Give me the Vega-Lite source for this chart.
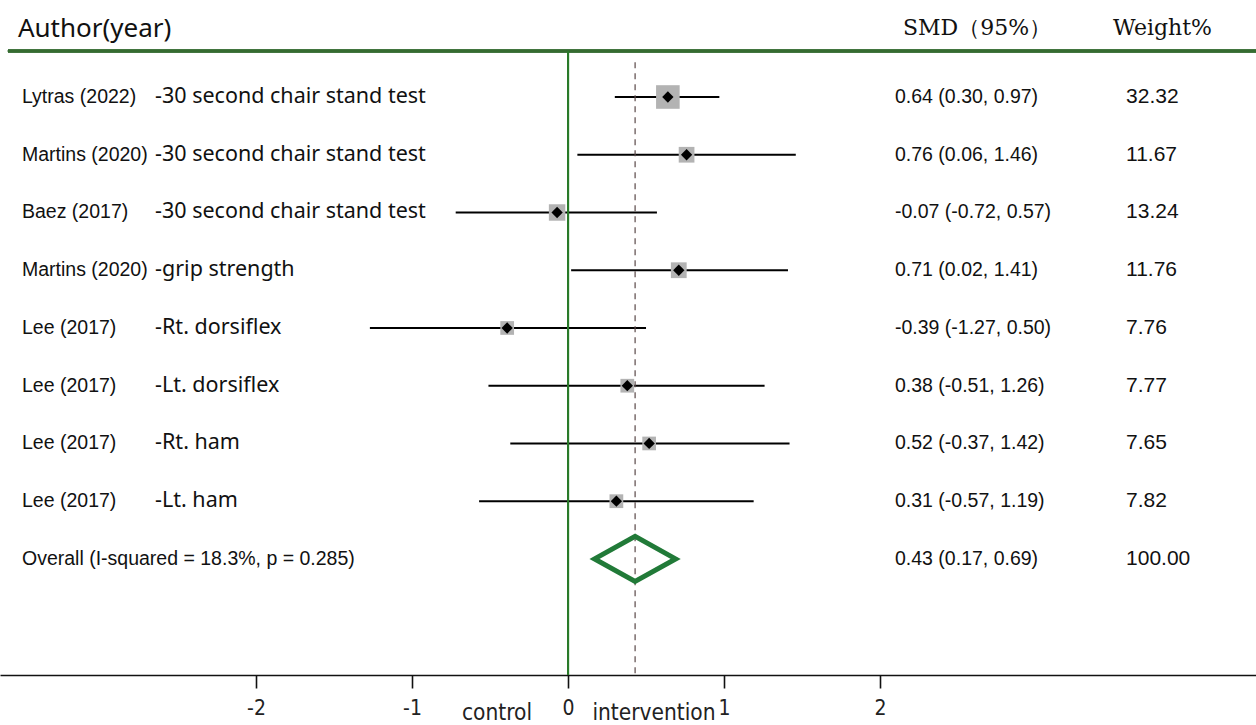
{
  "$schema": "https://vega.github.io/schema/vega-lite/v6.json",
  "width": 1256,
  "height": 675,
  "autosize": {"type": "pad"},
  "padding": 0,
  "background": "white",
  "config": {
    "view": {"stroke": null},
    "axisX": {"title": null, "grid": false, "domainColor": "#111", "domainWidth": 1.6, "tickColor": "#111", "tickWidth": 1.6, "tickSize": 13, "labelPadding": 9, "labelFont": "DejaVu Sans Condensed", "labelFontSize": 21, "labelColor": "#222", "labelFlush": false},
    "axisY": {"disable": true}
  },
  "datasets": {
    "studies": [
      {"row": 1, "author": "Lytras (2022)", "outcome": "-30 second chair stand test", "est": 0.64, "lower": 0.30, "upper": 0.97, "weight": 32.32, "ci": "0.64 (0.30, 0.97)", "kind": "study"},
      {"row": 2, "author": "Martins (2020)", "outcome": "-30 second chair stand test", "est": 0.76, "lower": 0.06, "upper": 1.46, "weight": 11.67, "ci": "0.76 (0.06, 1.46)", "kind": "study"},
      {"row": 3, "author": "Baez (2017)", "outcome": "-30 second chair stand test", "est": -0.07, "lower": -0.72, "upper": 0.57, "weight": 13.24, "ci": "-0.07 (-0.72, 0.57)", "kind": "study"},
      {"row": 4, "author": "Martins (2020)", "outcome": "-grip strength", "est": 0.71, "lower": 0.02, "upper": 1.41, "weight": 11.76, "ci": "0.71 (0.02, 1.41)", "kind": "study"},
      {"row": 5, "author": "Lee (2017)", "outcome": "-Rt. dorsiflex", "est": -0.39, "lower": -1.27, "upper": 0.50, "weight": 7.76, "ci": "-0.39 (-1.27, 0.50)", "kind": "study"},
      {"row": 6, "author": "Lee (2017)", "outcome": "-Lt. dorsiflex", "est": 0.38, "lower": -0.51, "upper": 1.26, "weight": 7.77, "ci": "0.38 (-0.51, 1.26)", "kind": "study"},
      {"row": 7, "author": "Lee (2017)", "outcome": "-Rt. ham", "est": 0.52, "lower": -0.37, "upper": 1.42, "weight": 7.65, "ci": "0.52 (-0.37, 1.42)", "kind": "study"},
      {"row": 8, "author": "Lee (2017)", "outcome": "-Lt. ham", "est": 0.31, "lower": -0.57, "upper": 1.19, "weight": 7.82, "ci": "0.31 (-0.57, 1.19)", "kind": "study"},
      {"row": 9, "author": "Overall  (I-squared = 18.3%, p = 0.285)", "outcome": "", "est": 0.43, "lower": 0.17, "upper": 0.69, "weight": 100.00, "ci": "0.43 (0.17, 0.69)", "kind": "overall"}
    ]
  },
  "data": {"name": "studies"},
  "layer": [
    {
      "transform": [{"filter": "datum.kind === 'study'"}],
      "mark": {"type": "rule", "color": "black", "strokeWidth": 2},
      "encoding": {
        "x": {"field": "lower", "type": "quantitative", "title": null, "scale": {"domain": [-3.641, 4.41], "nice": false, "zero": false}, "axis": {"values": [-2, -1, 0, 1, 2], "labelExpr": "'' + datum.value"}},
        "x2": {"field": "upper"},
        "y": {"field": "row", "type": "quantitative", "title": null, "scale": {"domain": [-0.68, 11.01], "reverse": true, "nice": false, "zero": false}}
      }
    },
    {
      "mark": {"type": "rule", "color": "#356b30", "strokeWidth": 2.5},
      "encoding": {
        "x": {"datum": -3.59, "type": "quantitative"},
        "x2": {"datum": 4.41},
        "y": {"datum": 0.203, "type": "quantitative"}
      }
    },
    {
      "mark": {"type": "rule", "color": "#2a7a2a", "strokeWidth": 2},
      "encoding": {
        "x": {"datum": 0, "type": "quantitative"},
        "y": {"datum": 0.203, "type": "quantitative"},
        "y2": {"datum": 11.01}
      }
    },
    {
      "transform": [{"filter": "datum.kind === 'overall'"}],
      "mark": {"type": "rule", "color": "#5a4848", "strokeWidth": 1.2, "strokeDash": [6, 5]},
      "encoding": {
        "x": {"field": "est", "type": "quantitative", "title": null},
        "y": {"datum": 0.4, "type": "quantitative"},
        "y2": {"datum": 11.01}
      }
    },
    {
      "transform": [{"filter": "datum.kind === 'study'"}],
      "mark": {"type": "square", "color": "#b3b3b3", "opacity": 1, "filled": true},
      "encoding": {
        "x": {"field": "est", "type": "quantitative", "title": null},
        "y": {"field": "row", "type": "quantitative", "title": null},
        "size": {"field": "weight", "type": "quantitative", "scale": {"type": "linear", "domain": [0, 32.32], "range": [72, 557], "zero": false}, "legend": null}
      }
    },
    {
      "transform": [{"filter": "datum.kind === 'study'"}],
      "mark": {"type": "point", "shape": "diamond", "filled": true, "color": "black", "opacity": 1, "size": 128},
      "encoding": {
        "x": {"field": "est", "type": "quantitative", "title": null},
        "y": {"field": "row", "type": "quantitative", "title": null}
      }
    },
    {
      "transform": [{"filter": "datum.kind === 'overall'"}],
      "mark": {"type": "point", "shape": "M-1,0L0,-0.556L1,0L0,0.556Z", "filled": false, "stroke": "#217a38", "strokeWidth": 5, "opacity": 1, "size": 6561, "strokeJoin": "miter"},
      "encoding": {
        "x": {"field": "est", "type": "quantitative", "title": null},
        "y": {"field": "row", "type": "quantitative", "title": null}
      }
    },
    {
      "mark": {"type": "text", "align": "left", "baseline": "middle", "font": "Liberation Sans", "fontSize": 19.5, "color": "#111"},
      "encoding": {
        "x": {"datum": -3.5, "type": "quantitative"},
        "y": {"field": "row", "type": "quantitative", "title": null},
        "text": {"field": "author"}
      }
    },
    {
      "transform": [{"filter": "datum.kind === 'study'"}],
      "mark": {"type": "text", "align": "left", "baseline": "middle", "font": "Noto Sans", "fontSize": 21.5, "color": "#111"},
      "encoding": {
        "x": {"datum": -2.647, "type": "quantitative"},
        "y": {"field": "row", "type": "quantitative", "title": null},
        "text": {"field": "outcome"}
      }
    },
    {
      "mark": {"type": "text", "align": "left", "baseline": "middle", "font": "Liberation Sans", "fontSize": 19.5, "color": "#111"},
      "encoding": {
        "x": {"datum": 2.096, "type": "quantitative"},
        "y": {"field": "row", "type": "quantitative", "title": null},
        "text": {"field": "ci"}
      }
    },
    {
      "mark": {"type": "text", "align": "left", "baseline": "middle", "font": "Liberation Sans", "fontSize": 21, "color": "#111"},
      "encoding": {
        "x": {"datum": 3.577, "type": "quantitative"},
        "y": {"field": "row", "type": "quantitative", "title": null},
        "text": {"field": "weight", "format": ".2f"}
      }
    },
    {
      "data": {"values": [{"label": "Author(year)", "col": -3.526}]},
      "mark": {"type": "text", "align": "left", "baseline": "middle", "font": "Noto Sans", "fontSize": 26, "color": "#111"},
      "encoding": {
        "x": {"field": "col", "type": "quantitative", "title": null},
        "y": {"datum": -0.17, "type": "quantitative"},
        "text": {"field": "label"}
      }
    },
    {
      "data": {"values": [{"label": "SMD（95%）", "col": 2.147}, {"label": "Weight%", "col": 3.494}]},
      "mark": {"type": "text", "align": "left", "baseline": "middle", "font": "DejaVu Serif", "fontSize": 22, "color": "#111"},
      "encoding": {
        "x": {"field": "col", "type": "quantitative", "title": null},
        "y": {"datum": -0.2, "type": "quantitative"},
        "text": {"field": "label"}
      }
    },
    {
      "data": {"values": [
        {"label": "control", "pos": -0.455},
        {"label": "intervention", "pos": 0.551}
      ]},
      "mark": {"type": "text", "align": "center", "baseline": "alphabetic", "font": "DejaVu Sans Condensed", "fontSize": 22.5, "color": "#222"},
      "encoding": {
        "x": {"field": "pos", "type": "quantitative", "title": null},
        "y": {"datum": 11.79, "type": "quantitative"},
        "text": {"field": "label"}
      }
    }
  ]
}
